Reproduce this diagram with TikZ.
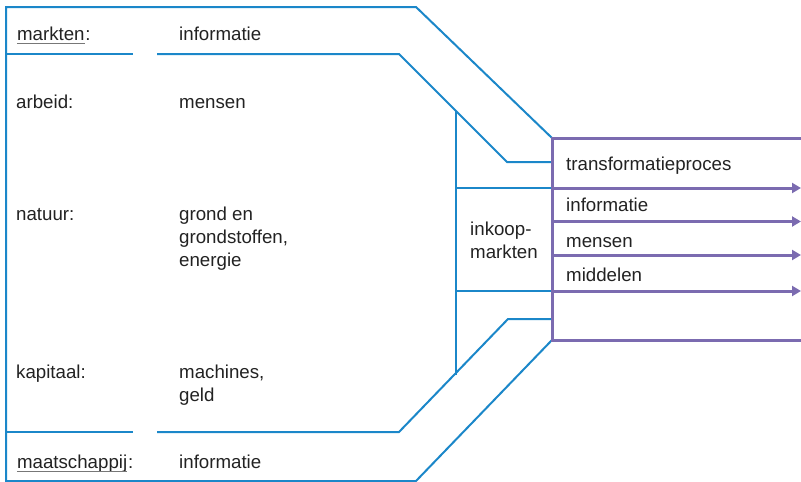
\documentclass[tikz,border=0pt]{standalone}
\usepackage{fontspec}
\setmainfont{Liberation Sans}
\usetikzlibrary{arrows.meta}
\definecolor{flowblue}{HTML}{1B87C9}
\definecolor{procpurple}{HTML}{7B6BB0}
\definecolor{txt}{HTML}{222222}
\definecolor{uline}{HTML}{777777}
\newcommand{\ul}[1]{\tikz[baseline=(w.base)]{\node[inner sep=0pt](w){#1};\draw[uline,line width=1.3pt]([yshift=-3.5pt]w.base west)--([yshift=-3.5pt]w.base east);}}
\tikzset{
  lbl/.style={inner sep=0pt, anchor=base west, align=left, text=txt,
    font=\fontsize{18.7}{23}\selectfont},
  blueline/.style={draw=flowblue, line width=2pt, line join=miter},
  purpline/.style={draw=procpurple, line width=3pt},
  flow/.style={purpline, -{Triangle[length=9pt,width=10pt]}},
}
\begin{document}
\begin{tikzpicture}[x=1pt,y=-1pt]
\useasboundingbox (0,0) rectangle (801,482);

% market channel outline
\coordinate (tl) at (6,7);
\coordinate (bl) at (6,481);
\coordinate (tr) at (416,7);
\coordinate (br) at (416,481);
\coordinate (pt) at (552,138);
\coordinate (pb) at (552,340);
\draw[blueline] (pt) -- (tr) -- (tl) -- (bl) -- (br) -- (pb);

% inner separators
\draw[blueline] (6,54) -- (133,54);
\draw[blueline] (157,54) -- (399,54) -- (507,162) -- (552,162);
\draw[blueline] (6,432) -- (133,432);
\draw[blueline] (157,432) -- (399,432) -- (508,319) -- (552,319);

% purchasing markets block
\coordinate (vt) at (456,111);
\coordinate (vb) at (456,375);
\draw[blueline] (vt) -- (vb);
\draw[blueline] (456,188) -- (552,188);
\draw[blueline] (456,291) -- (552,291);

% transformation process
\draw[purpline] (801,138) -- (pt) -- (pb) -- (801,340);
\draw[flow] (552,188) -- (801,188);
\draw[flow] (552,221.5) -- (801,221.5);
\draw[flow] (552,255) -- (801,255);
\draw[flow] (552,291) -- (801,291);

% labels (multi-line nodes are placed by the baseline of their last line)
\node[lbl] (mk)  at (16,40)  {\ul{markten}:};
\node[lbl] (mki) at (179,40) {informatie};
\node[lbl] (ar)  at (16,108) {arbeid:};
\node[lbl] (arm) at (179,108) {mensen};
\node[lbl] (na)  at (16,220) {natuur:};
\node[lbl] (nag) at (179,266) {grond en\\grondstoffen,\\energie};
\node[lbl] (ka)  at (16,378) {kapitaal:};
\node[lbl] (kam) at (179,401) {machines,\\geld};
\node[lbl] (ma)  at (16,468) {\ul{maatschappij}:};
\node[lbl] (mai) at (179,468) {informatie};
\node[lbl] (ik)  at (470,258) {inkoop-\\markten};
\node[lbl] (tp)  at (566,170) {transformatieproces};
\node[lbl] (ti)  at (566,211) {informatie};
\node[lbl] (tm)  at (566,247) {mensen};
\node[lbl] (tmd) at (566,281) {middelen};
\end{tikzpicture}
\end{document}
